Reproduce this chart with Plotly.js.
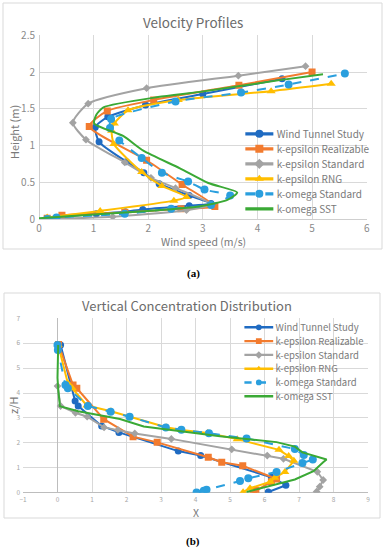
<!DOCTYPE html>
<html><head><meta charset="utf-8">
<script src="https://cdn.plot.ly/plotly-3.0.1.min.js"></script>
<style>html,body{margin:0;padding:0;background:#fff}#chart{width:386px;height:550px}</style>
</head><body><div id="chart"></div>
<script>
// ---------- Chart (a): Velocity Profiles (x = wind speed m/s, y = height m) ----------
const seriesNames = ['Wind Tunnel Study','k-epsilon Realizable','k-epsilon Standard','k-epsilon RNG','k-omega Standard','k-omega SST'];

const a_wt_x  = [0.15, 1.05, 1.58, 1.9, 2.75, 3.15, 2.75, 2.2, 1.92, 1.6, 1.1, 1.03, 1.26, 1.95, 3.0, 4.45];
const a_wt_y  = [0.01, 0.07, 0.1, 0.13, 0.18, 0.21, 0.32, 0.48, 0.63, 0.78, 1.05, 1.25, 1.39, 1.55, 1.7, 1.91];
const a_ker_x = [0.15, 0.42, 1.57, 2.6, 3.22, 2.62, 1.97, 0.92, 1.25, 2.1, 3.66, 5.0];
const a_ker_y = [0.01, 0.05, 0.09, 0.14, 0.17, 0.47, 0.8, 1.26, 1.47, 1.62, 1.82, 2.0];
const a_kes_x = [0.2, 1.35, 2.7, 3.15, 2.5, 2.05, 1.57, 0.86, 0.62, 0.9, 1.97, 3.65, 4.88];
const a_kes_y = [0.0, 0.03, 0.12, 0.2, 0.42, 0.56, 0.77, 1.08, 1.31, 1.57, 1.78, 1.95, 2.08];
const a_rng_x = [0.15, 1.12, 2.47, 2.7, 2.25, 1.88, 1.37, 1.33, 1.38, 1.63, 2.55, 4.25, 5.35];
const a_rng_y = [0.02, 0.11, 0.25, 0.3, 0.45, 0.64, 1.02, 1.2, 1.3, 1.48, 1.62, 1.74, 1.84];
const a_kos_x = [0.15, 0.32, 1.57, 2.42, 3.15, 3.5, 3.03, 2.73, 2.25, 1.88, 1.47, 1.3, 1.32, 2.5, 3.7, 4.57, 5.6];
const a_kos_y = [0.0, 0.02, 0.07, 0.14, 0.19, 0.32, 0.4, 0.51, 0.63, 0.83, 1.07, 1.24, 1.36, 1.6, 1.72, 1.83, 1.98];
const a_sst_x = [0.0, 1.0, 2.0, 2.93, 3.45, 3.63, 3.1, 2.58, 1.91, 1.54, 1.01, 1.05, 1.18, 2.18, 2.95, 4.41, 5.2];
const a_sst_y = [0.01, 0.06, 0.11, 0.17, 0.26, 0.36, 0.49, 0.69, 0.93, 1.13, 1.3, 1.42, 1.52, 1.66, 1.73, 1.89, 1.97];

// ---------- Chart (b): Vertical Concentration Distribution (x = X, y = z/H) ----------
const b_wt_x  = [0.09, 0.51, 0.6, 1.28, 1.78, 3.5, 4.15, 6.2, 6.62, 6.11];
const b_wt_y  = [5.93, 3.68, 3.48, 2.68, 2.42, 1.67, 1.49, 0.62, 0.3, 0.03];
const b_ker_x = [0.03, 0.45, 0.56, 1.34, 2.19, 2.89, 4.37, 4.76, 5.37, 6.35, 6.2, 5.75, 5.68];
const b_ker_y = [5.95, 4.32, 4.19, 2.95, 2.25, 2.02, 1.42, 1.22, 1.08, 0.55, 0.44, 0.1, 0.02];
const b_kes_x = [0.0, 0.09, 0.52, 0.86, 1.35, 1.75, 2.24, 3.3, 5.05, 6.08, 6.55, 7.53, 7.7, 7.6, 7.51];
const b_kes_y = [4.28, 3.48, 3.21, 3.05, 2.62, 2.52, 2.38, 2.16, 1.74, 1.49, 1.36, 0.84, 0.51, 0.24, 0.04];
const b_rng_x = [0.02, 0.3, 0.43, 0.85, 1.55, 2.1, 3.15, 3.6, 4.35, 5.21, 6.42, 6.7, 6.85, 6.59, 6.3, 6.17, 5.58, 5.38];
const b_rng_y = [5.93, 4.39, 4.19, 3.5, 3.27, 3.05, 2.63, 2.52, 2.4, 2.15, 1.72, 1.47, 1.28, 0.83, 0.6, 0.44, 0.18, 0.02];
const b_kos_x = [0.0, 0.01, 0.23, 0.3, 0.88, 1.54, 2.09, 3.14, 3.59, 4.39, 5.48, 6.88, 7.14, 7.4, 7.1, 6.35, 5.53, 5.29, 4.32, 4.24, 4.03];
const b_kos_y = [5.93, 5.73, 4.32, 4.19, 3.48, 3.25, 3.05, 2.62, 2.53, 2.39, 2.18, 1.75, 1.51, 1.33, 1.19, 0.83, 0.58, 0.47, 0.12, 0.08, 0.01];
const b_sst_x = [0.02, 0.0, 0.02, 0.07, 0.6, 1.81, 2.5, 3.26, 4.71, 6.35, 6.88, 7.1, 7.37, 7.8, 7.7, 7.42, 6.88, 6.06, 5.48];
const b_sst_y = [5.93, 4.6, 4.17, 3.47, 3.27, 2.96, 2.66, 2.52, 2.27, 2.03, 1.85, 1.62, 1.5, 1.33, 1.22, 0.86, 0.53, 0.24, 0.03];

const colors  = ['#1f6bc2', '#f27b2f', '#a3a3a3', '#ffbe00', '#2a9fde', '#3aa935'];
const symbols = ['circle', 'square', 'diamond', 'triangle-up', 'circle', 'circle'];
const msizes  = [7, 7, 6, 8, 8, 0];
const dashes  = ['solid', 'solid', 'solid', 'solid', 'dash', 'solid'];

const aData = [[a_wt_x,a_wt_y],[a_ker_x,a_ker_y],[a_kes_x,a_kes_y],[a_rng_x,a_rng_y],[a_kos_x,a_kos_y],[a_sst_x,a_sst_y]];
const bData = [[b_wt_x,b_wt_y],[b_ker_x,b_ker_y],[b_kes_x,b_kes_y],[b_rng_x,b_rng_y],[b_kos_x,b_kos_y],[b_sst_x,b_sst_y]];

const traces = [];
aData.forEach((d, i) => {
  traces.push({
    type: 'scatter', x: d[0], y: d[1], name: seriesNames[i],
    mode: i === 5 ? 'lines' : 'lines+markers',
    line: {color: colors[i], width: 2, dash: dashes[i], shape: 'spline', smoothing: 0.6},
    marker: {color: colors[i], symbol: symbols[i], size: msizes[i]},
    xaxis: 'x', yaxis: 'y', legend: 'legend', cliponaxis: true
  });
});
bData.forEach((d, i) => {
  traces.push({
    type: 'scatter', x: d[0], y: d[1], name: seriesNames[i],
    mode: i === 5 ? 'lines' : 'lines+markers',
    line: {color: colors[i], width: 2, dash: dashes[i]},
    marker: {color: colors[i], symbol: symbols[i], size: msizes[i]},
    xaxis: 'x2', yaxis: 'y2', legend: 'legend2', cliponaxis: true
  });
});

const W = 386, H = 550;
const px = v => v / W, py = v => 1 - v / H;
const FONT = 'Noto Sans CJK SC, Noto Sans, sans-serif';
const grid = '#d9d9d9';

const layout = {
  width: W, height: H, autosize: false,
  margin: {l: 0, r: 0, t: 0, b: 0, pad: 0, autoexpand: false},
  paper_bgcolor: '#ffffff', plot_bgcolor: '#ffffff',
  font: {family: FONT, color: '#595959'},
  xaxis: {domain: [px(39), px(366.7)], range: [0, 6], dtick: 1, tick0: 0,
    showgrid: true, gridcolor: grid, zeroline: true, zerolinecolor: '#cfcfcf', zerolinewidth: 1,
    showline: false, ticks: '', ticklabelstandoff: 2, tickfont: {size: 10, color: '#8a8a8a'}, fixedrange: true, anchor: 'y', automargin: false},
  yaxis: {domain: [py(219), py(35.3)], range: [0, 2.5], dtick: 0.5, tick0: 0,
    showgrid: true, gridcolor: grid, zeroline: true, zerolinecolor: '#cfcfcf', zerolinewidth: 1,
    showline: false, ticks: '', ticklabelstandoff: 3, tickfont: {size: 10, color: '#8a8a8a'}, fixedrange: true, anchor: 'x', automargin: false},
  xaxis2: {domain: [px(23), px(368)], range: [-1, 9], dtick: 1, tick0: 0,
    showgrid: true, gridcolor: grid, zeroline: true, zerolinecolor: '#bdbdbd', zerolinewidth: 1.5,
    showline: false, ticks: '', ticklabelstandoff: 2, tickfont: {size: 6.5, color: '#a6a6a6'}, fixedrange: true, anchor: 'y2', automargin: false},
  yaxis2: {domain: [py(492.7), py(318.3)], range: [0, 7], dtick: 1, tick0: 0,
    showgrid: true, gridcolor: grid, zeroline: true, zerolinecolor: '#bdbdbd', zerolinewidth: 1.5,
    showline: false, ticks: '', ticklabelstandoff: 2, tickfont: {size: 6.5, color: '#a6a6a6'}, fixedrange: true, anchor: 'x2', automargin: false},
  legend: {x: px(242), y: py(123), xanchor: 'left', yanchor: 'top', bgcolor: 'rgba(255,255,255,0)',
    font: {size: 15, color: '#7a7a7a', family: FONT}, itemsizing: 'constant', itemwidth: 42, tracegroupgap: 0},
  legend2: {x: px(242), y: py(318), xanchor: 'left', yanchor: 'top', bgcolor: 'rgba(255,255,255,0)',
    font: {size: 19.8, color: '#7a7a7a', family: FONT}, itemsizing: 'constant', itemwidth: 60, tracegroupgap: 0},
  shapes: [
    {type: 'rect', xref: 'paper', yref: 'paper', x0: px(3), x1: px(382), y0: py(249), y1: py(3),
      line: {color: '#d9d9d9', width: 1}, layer: 'below'},
    {type: 'rect', xref: 'paper', yref: 'paper', x0: px(4), x1: px(380), y0: py(518), y1: py(293),
      line: {color: '#d9d9d9', width: 1}, layer: 'below'}
  ],
  annotations: [
    {text: 'Velocity Profiles', xref: 'paper', yref: 'paper', x: px(193), y: py(22), showarrow: false,
      font: {size: 13.5, color: '#6b6b6b'}, xanchor: 'center', yanchor: 'middle'},
    {text: 'Wind speed (m/s)', xref: 'paper', yref: 'paper', x: px(203), y: py(242), showarrow: false,
      font: {size: 10.5, color: '#7a7a7a'}, xanchor: 'center', yanchor: 'middle'},
    {text: 'Height (m)', xref: 'paper', yref: 'paper', x: px(14), y: py(132), showarrow: false, textangle: -90,
      font: {size: 11, color: '#7a7a7a'}, xanchor: 'center', yanchor: 'middle'},
    {text: '<b>(a)</b>', xref: 'paper', yref: 'paper', x: px(193), y: py(273), showarrow: false,
      font: {size: 11, color: '#000000', family: 'Liberation Serif, serif'}, xanchor: 'center', yanchor: 'middle'},
    {text: 'Vertical Concentration Distribution', xref: 'paper', yref: 'paper', x: px(187), y: py(305), showarrow: false,
      font: {size: 13, color: '#6b6b6b'}, xanchor: 'center', yanchor: 'middle'},
    {text: 'X', xref: 'paper', yref: 'paper', x: px(196), y: py(512), showarrow: false,
      font: {size: 10.5, color: '#7a7a7a'}, xanchor: 'center', yanchor: 'middle'},
    {text: 'z/H', xref: 'paper', yref: 'paper', x: px(13), y: py(405), showarrow: false, textangle: -90,
      font: {size: 11, color: '#7a7a7a'}, xanchor: 'center', yanchor: 'middle'},
    {text: '<b>(b)</b>', xref: 'paper', yref: 'paper', x: px(193), y: py(541), showarrow: false,
      font: {size: 11, color: '#000000', family: 'Liberation Serif, serif'}, xanchor: 'center', yanchor: 'middle'}
  ]
};

Plotly.newPlot('chart', traces, layout, {displayModeBar: false, staticPlot: true, responsive: false}).then(gd => {
  const scales = {legend: 0.667, legend2: 0.48};
  Object.keys(scales).forEach(cls => {
    const g = gd.querySelector('g.' + cls);
    if (g) {
      const t = g.getAttribute('transform') || '';
      g.setAttribute('transform', t + ' scale(' + scales[cls] + ')');
    }
  });
});
</script>
</body></html>
